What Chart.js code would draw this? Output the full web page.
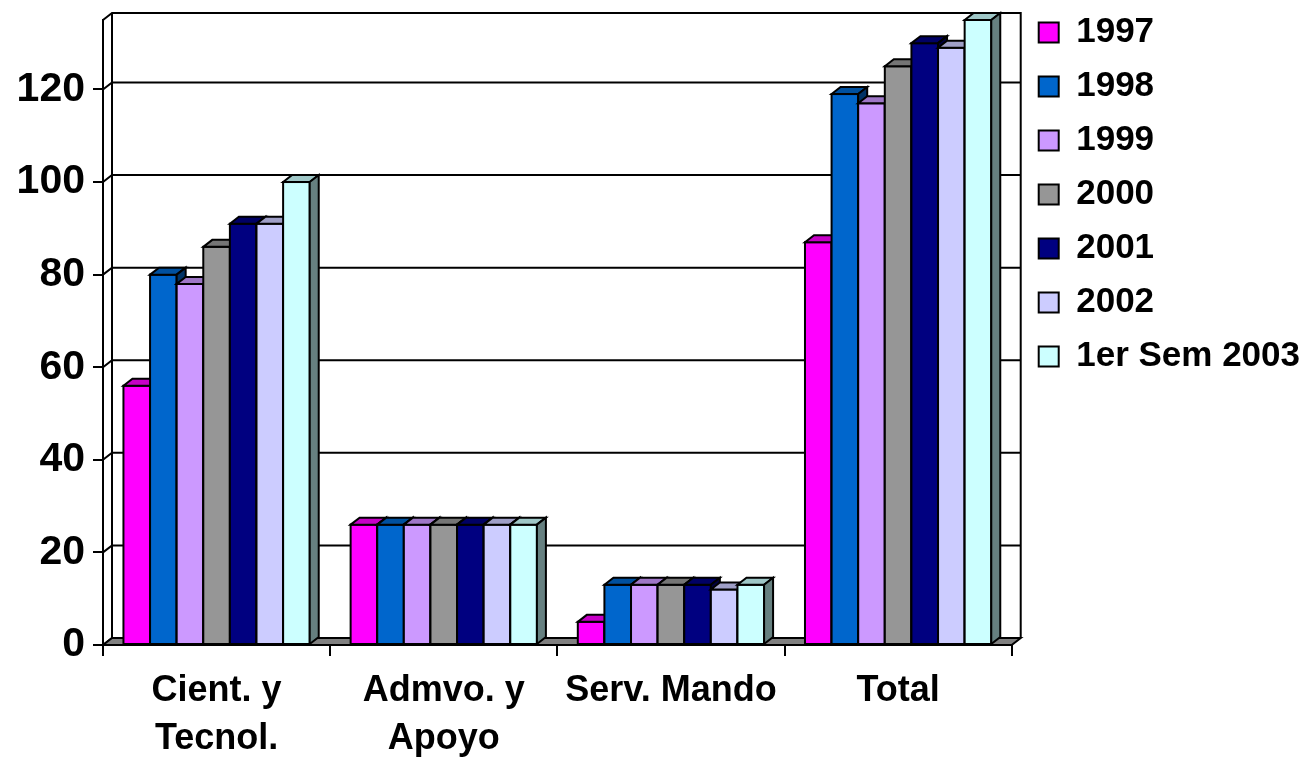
<!DOCTYPE html>
<html lang="es">
<head>
<meta charset="UTF-8">
<title>Personal por categoría 1997 - 1er Sem 2003</title>
<style>
  body{margin:0;background:#fff;}
  #wrap{width:1310px;height:760px;}
</style>
</head>
<body>
<div id="wrap"><canvas id="chart"></canvas></div>

<script src="https://cdn.jsdelivr.net/npm/chart.js@4.4.1"></script>
<script>
/* ---------- data ---------- */
const categories  = [['Cient. y', 'Tecnol.'], ['Admvo. y', 'Apoyo'], 'Serv. Mando', 'Total'];
const seriesNames = ['1997', '1998', '1999', '2000', '2001', '2002', '1er Sem 2003'];
const v1997 = [56, 26, 5, 87];
const v1998 = [80, 26, 13, 119];
const v1999 = [78, 26, 13, 117];
const v2000 = [86, 26, 13, 125];
const v2001 = [91, 26, 13, 130];
const v2002 = [91, 26, 12, 129];
const v2003 = [100, 26, 13, 135];
const seriesValues = [v1997, v1998, v1999, v2000, v2001, v2002, v2003];
const yTicks = [0, 20, 40, 60, 80, 100, 120];
const colors = ['#ff00ff', '#0066cc', '#cc99ff', '#969696', '#000080', '#ccccff', '#ccffff'];

const DX = 9, DY = 7;   // depth of the fake 3d

Chart.defaults.font.family = '"Liberation Sans", Arial, sans-serif';
Chart.defaults.color = '#000';

function shade(hex, f){
  const n = parseInt(hex.slice(1), 16);
  const r = Math.round(((n >> 16) & 255) * f);
  const g = Math.round(((n >> 8) & 255) * f);
  const b = Math.round((n & 255) * f);
  return `rgb(${r},${g},${b})`;
}

function drawBox(ctx, x, top, w, h, col){
  const bottom = top + h;
  // front
  ctx.fillStyle = col;
  ctx.fillRect(x, top, w, h);
  ctx.strokeRect(x, top, w, h);
  // top face
  ctx.beginPath();
  ctx.moveTo(x, top);
  ctx.lineTo(x + DX, top - DY);
  ctx.lineTo(x + w + DX, top - DY);
  ctx.lineTo(x + w, top);
  ctx.closePath();
  ctx.fillStyle = shade(col, 0.78);
  ctx.fill(); ctx.stroke();
  // right side
  ctx.beginPath();
  ctx.moveTo(x + w, top);
  ctx.lineTo(x + w + DX, top - DY);
  ctx.lineTo(x + w + DX, bottom - DY);
  ctx.lineTo(x + w, bottom);
  ctx.closePath();
  ctx.fillStyle = shade(col, 0.5);
  ctx.fill(); ctx.stroke();
}

/* walls, floor and the boxes are drawn here instead of the flat bars */
const fake3d = {
  id: 'fake3d',
  beforeDatasetsDraw(chart){
    const {ctx, chartArea: a, scales: {y}} = chart;
    ctx.save();
    ctx.lineWidth = 2;
    ctx.strokeStyle = '#000';

    // gridlines on side + back wall
    yTicks.forEach(t => {
      const py = y.getPixelForValue(t);
      ctx.beginPath();
      ctx.moveTo(a.left, py);
      ctx.lineTo(a.left + DX, py - DY);
      ctx.lineTo(a.right + DX, py - DY);
      ctx.stroke();
    });

    // wall outline
    ctx.beginPath();
    ctx.moveTo(a.left, a.top);
    ctx.lineTo(a.left + DX, a.top - DY);
    ctx.lineTo(a.right + DX, a.top - DY);
    ctx.lineTo(a.right + DX, a.bottom - DY);
    ctx.moveTo(a.left + DX, a.top - DY);
    ctx.lineTo(a.left + DX, a.bottom - DY);
    ctx.stroke();

    // floor
    ctx.beginPath();
    ctx.moveTo(a.left, a.bottom);
    ctx.lineTo(a.right, a.bottom);
    ctx.lineTo(a.right + DX, a.bottom - DY);
    ctx.lineTo(a.left + DX, a.bottom - DY);
    ctx.closePath();
    ctx.fillStyle = '#808080';
    ctx.fill(); ctx.stroke();

    // boxes: left to right so each front hides the previous side
    const metas = chart.data.datasets.map((d, i) => chart.getDatasetMeta(i));
    categories.forEach((c, j) => {
      metas.forEach((m, i) => {
        const bar = m.data[j];
        drawBox(ctx, bar.x - bar.width / 2, bar.y, bar.width, bar.base - bar.y, colors[i]);
      });
    });
    ctx.restore();
    return false;
  }
};

new Chart(document.getElementById('chart'), {
  type: 'bar',
  data: {
    labels: categories,
    datasets: seriesNames.map((name, i) => ({
      label: name,
      data: seriesValues[i],
      backgroundColor: colors[i],
      borderColor: '#000',
      borderWidth: 2
    }))
  },
  options: {
    responsive: true,
    maintainAspectRatio: false,
    animation: false,
    layout: {padding: {top: -4, right: 0, left: 0, bottom: 0}},
    datasets: {bar: {categoryPercentage: 0.82, barPercentage: 1}},
    plugins: {
      legend: {
        position: 'right',
        align: 'start',
        maxWidth: 320,
        labels: {boxWidth: 20, boxHeight: 20, padding: 19, color: '#000',
                 font: {size: 35, weight: 'bold'}}
      },
      tooltip: {enabled: false}
    },
    scales: {
      x: {
        grid: {drawOnChartArea: false, tickLength: 11, color: '#000', lineWidth: 2},
        border: {color: '#000', width: 2},
        ticks: {color: '#000', padding: 11, maxRotation: 0, autoSkip: false,
                font: {size: 36, weight: 'bold', lineHeight: '48px'}},
        afterFit(s){ s.height = 115; }
      },
      xTop: {
        type: 'linear', position: 'top', display: true,
        grid: {display: false}, ticks: {display: false}, border: {display: false},
        afterFit(s){ s.height = 24; }
      },
      y: {
        min: 0, max: 135,
        afterBuildTicks(s){ s.ticks = yTicks.map(v => ({value: v})); },
        grid: {drawOnChartArea: false, tickLength: 10, color: '#000', lineWidth: 2},
        border: {color: '#000', width: 2},
        ticks: {color: '#000', padding: 8, font: {size: 41, weight: 'bold'}},
        afterFit(s){ s.width = 103; s.paddingTop = 0; s.paddingBottom = 0; }
      },
      yGap: {
        type: 'linear', position: 'right', display: true,
        grid: {display: false}, ticks: {display: false}, border: {display: false},
        afterFit(s){ s.width = 8; }
      }
    }
  },
  plugins: [fake3d]
});
</script>
</body>
</html>
